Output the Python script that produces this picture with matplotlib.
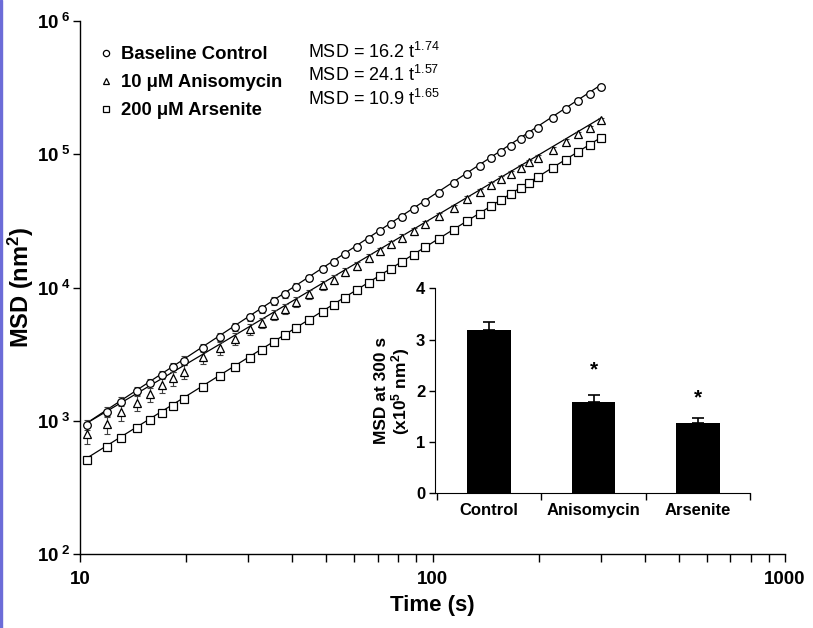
import matplotlib
matplotlib.use('Agg')
import matplotlib.pyplot as plt
from matplotlib.patches import Rectangle
from matplotlib.lines import Line2D
from matplotlib.ticker import FixedLocator, NullFormatter, LogLocator
import numpy as np

plt.rcParams['font.family'] = ['Liberation Sans', 'DejaVu Sans']
plt.rcParams['mathtext.fontset'] = 'custom'
plt.rcParams['mathtext.rm'] = 'Liberation Sans'
plt.rcParams['mathtext.bf'] = 'Liberation Sans:bold'
plt.rcParams['mathtext.it'] = 'Liberation Sans:italic'

# time points (s)
time_s = [10.5, 11.9, 13.1, 14.5, 15.8, 17.1, 18.4, 19.7, 22.4, 25.0, 27.5, 30.3,
          32.8, 35.6, 38.2, 41.1, 44.7, 48.8, 52.4, 56.6, 60.9, 65.9, 71.2, 76.3,
          82.1, 88.5, 95.5, 104, 115, 125.5, 136, 147, 156, 167, 178, 188, 199,
          219, 239, 259, 279, 300]

# MSD (nm^2) for each condition
msd_control = [930, 1170, 1390, 1660, 1920, 2210, 2510, 2830, 3530, 4280, 5050, 5980,
               6850, 7920, 8940, 10150, 11750, 13700, 15500, 17700, 20100, 23100,
               26400, 29800, 33800, 38600, 44000, 51000, 60800, 70800, 81500, 93200,
               103400, 116300, 130000, 143000, 158000, 186500, 217000, 249700,
               284000, 320000]
err_control = [80, 100, 110, 130, 150, 170, 190, 210, 250, 300, 340, 400, 450, 500,
               550, 600, 650, 700, 750, 850, 950, 1100, 1200, 1300, 1500, 1700, 1900,
               2200, 2600, 3000, 3400, 3900, 4300, 4800, 5300, 5900, 6500, 7600,
               8900, 10200, 11600, 13200]

msd_aniso = [790, 940, 1160, 1365, 1600, 1850, 2080, 2340, 2990, 3500, 4120, 4850,
             5430, 6240, 6900, 7820, 8930, 10360, 11460, 13080, 14520, 16610, 18750,
             21120, 23690, 26380, 30040, 34340, 39790, 46120, 52330, 58520, 64910,
             71500, 79030, 87000, 94150, 108300, 124200, 140900, 156700, 179300]
err_aniso = [120, 150, 170, 190, 210, 230, 250, 270, 320, 370, 420, 470, 500, 560,
             600, 660, 720, 800, 860, 950, 1000, 1100, 1200, 1300, 1400, 1500, 1700,
             1900, 2100, 2400, 2700, 3000, 3300, 3600, 4000, 4300, 4700, 5300, 6000,
             6700, 7400, 8200]

msd_arsenite = [505, 630, 740, 880, 1010, 1150, 1300, 1460, 1800, 2160, 2540, 2980,
                3400, 3900, 4380, 4950, 5680, 6580, 7400, 8400, 9500, 10800, 12300,
                13800, 15500, 17600, 20000, 23000, 27200, 31400, 35800, 40700, 45000,
                50300, 55900, 61200, 67200, 78600, 90800, 103800, 117300, 132500]
err_arsenite = [15, 20, 22, 26, 30, 34, 38, 42, 52, 62, 72, 85, 95, 110, 120, 135,
                150, 170, 190, 210, 240, 270, 300, 340, 380, 430, 480, 550, 650, 750,
                850, 950, 1050, 1150, 1300, 1400, 1550, 1800, 2100, 2400, 2700, 3000]

# power law fits MSD = a t^b
fit_a = [16.2, 24.1, 10.9]
fit_b = [1.74, 1.57, 1.65]

labels = ['Baseline Control', '10 \u03bcM Anisomycin', '200 \u03bcM Arsenite']
markers = ['o', '^', 's']

# inset bar chart
bar_labels = ['Control', 'Anisomycin', 'Arsenite']
bar_values = [3.19, 1.79, 1.37]
bar_err = [0.16, 0.13, 0.09]
star_y = [None, 2.41, 1.86]

W, H = 813, 628
fig = plt.figure(figsize=(W / 100, H / 100), dpi=100)
fig.patches.append(Rectangle((0, 0), 2 / W, 1, transform=fig.transFigure,
                             color='#6c6cd8', zorder=10))

ax = fig.add_axes([80 / W, 1 - 554 / H, 705 / W, 533 / H])
series = [(msd_control, err_control), (msd_aniso, err_aniso),
          (msd_arsenite, err_arsenite)]
t = np.array(time_s)
handles = []
for (msd, err), a, b, m, lab in zip(series, fit_a, fit_b, markers, labels):
    ends = np.array([t[0], t[-1]])
    ax.plot(ends, a * ends ** b, color='black', lw=0.9, zorder=2)
    ax.errorbar(t, msd, yerr=err, fmt='none', ecolor='0.25', elinewidth=0.8,
                capsize=2.5, capthick=0.8, zorder=3)
    ms = 6 if m == '^' else 5.5
    ax.plot(t, msd, linestyle='none', marker=m, ms=ms, mfc='white', mec='black',
            mew=0.9, zorder=4)
    handles.append(Line2D([], [], linestyle='none', marker=m, ms=4.5, mfc='white',
                          mec='black', mew=0.9, label=lab))

ax.set_xscale('log')
ax.set_yscale('log')
ax.set_xlim(10, 1000)
ax.set_ylim(100, 1e6)
for s in ['top', 'right']:
    ax.spines[s].set_visible(False)
for s in ['left', 'bottom']:
    ax.spines[s].set_linewidth(1.0)

ax.xaxis.set_major_locator(FixedLocator([10, 100, 1000]))
ax.xaxis.set_minor_locator(LogLocator(base=10, subs=np.arange(2, 10)))
ax.xaxis.set_minor_formatter(NullFormatter())
ax.set_xticklabels(['10', '100', '1000'], fontsize=13.5, fontweight='bold')
ax.yaxis.set_major_locator(FixedLocator([1e2, 1e3, 1e4, 1e5, 1e6]))
ax.yaxis.set_minor_locator(FixedLocator([]))
ax.set_yticklabels([r'$\mathbf{10}^{\;\mathbf{%d}}$' % k for k in range(2, 7)],
                   fontsize=13.5)
ax.tick_params(axis='x', which='both', direction='out', length=6, width=1, pad=6)
ax.tick_params(axis='y', which='major', direction='out', length=5, width=1, pad=2)

ax.set_xlabel('Time (s)', fontsize=16, fontweight='bold', labelpad=5)
ax.set_ylabel('MSD (nm$^\\mathbf{2}$)', fontsize=17, fontweight='bold', labelpad=1)

ax.legend(handles=handles, loc='upper left', bbox_to_anchor=(100 / W, 1 - 46 / H),
          bbox_transform=fig.transFigure, frameon=False,
          prop={'weight': 'bold', 'size': 13.3}, handlelength=0.6,
          handletextpad=0.55, labelspacing=0.6, borderpad=0, borderaxespad=0)

for i, (a, b) in enumerate(zip(fit_a, fit_b)):
    fig.text(308 / W, 1 - (52 + 23.3 * i) / H, 'MSD = %.1f t$^{%.2f}$' % (a, b),
             fontsize=13, va='center', ha='left')

# inset
ins = fig.add_axes([435 / W, 1 - 493.3 / H, 315 / W, 205 / H])
x = np.arange(len(bar_labels))
ins.bar(x, bar_values, width=0.42, color='black', zorder=2)
ins.errorbar(x, bar_values, yerr=[[0] * 3, bar_err], fmt='none', ecolor='black',
             elinewidth=1.2, capsize=4, capthick=1.2, zorder=1)
for xi, sy in zip(x, star_y):
    if sy is not None:
        ins.text(xi, sy, '*', ha='center', va='center', fontsize=15,
                 fontweight='bold')
ins.set_xlim(-0.52, 2.5)
ins.set_ylim(0, 4)
ins.set_yticks([0, 1, 2, 3, 4])
ins.set_yticklabels(['0', '1', '2', '3', '4'], fontsize=12, fontweight='bold')
ins.set_xticks(x)
ins.set_xticklabels(bar_labels, fontsize=12, fontweight='bold')
ins.set_xticks([-0.5, 0.5, 1.5, 2.5], minor=True)
ins.tick_params(axis='x', which='major', length=0, pad=7)
ins.tick_params(axis='x', which='minor', direction='out', length=5, width=1)
ins.tick_params(axis='y', direction='out', length=4, width=1, pad=3)
for s in ['top', 'right']:
    ins.spines[s].set_visible(False)
ins.set_ylabel('MSD at 300 s\n(x10$^\\mathbf{5}$ nm$^\\mathbf{2}$)', fontsize=12.5,
               fontweight='bold', labelpad=3, linespacing=1.0)

fig.savefig('out.png', dpi=100, facecolor='white')
